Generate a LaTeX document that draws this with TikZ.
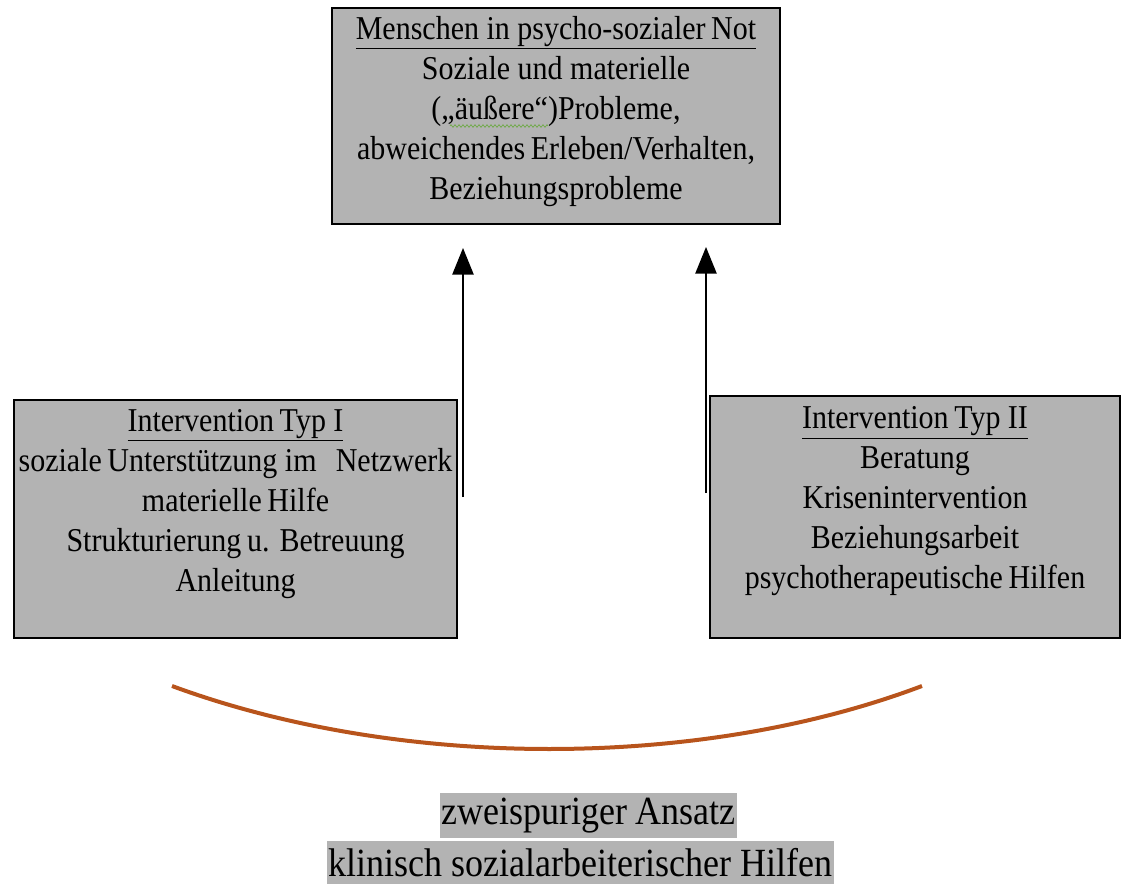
\documentclass[tikz,border=0pt]{standalone}
\usepackage{fontspec}
\setmainfont{Liberation Serif}[FakeStretch=0.9]
\usetikzlibrary{positioning,arrows.meta,decorations.pathmorphing}
\definecolor{boxgray}{RGB}{179,179,179}
\definecolor{arcbrown}{RGB}{184,84,28}
\definecolor{spellgreen}{RGB}{110,170,70}
\tikzset{box node/.style={rectangle,fill=boxgray,draw=black,line width=1.2pt,inner sep=0pt,font=\fontsize{25}{30}\selectfont},
         band node/.style={rectangle,fill=boxgray,inner xsep=1pt,inner ysep=0pt,font=\fontsize{30}{36}\selectfont},}

\begin{document}
\begin{tikzpicture}[x=0.75pt,y=-0.75pt]
      \useasboundingbox (0,0) rectangle (1122,884);

      \node[box node] (not) at (556,116) {\parbox[c][162pt][t]{336pt}{\centering\vspace{6pt}%
        \underline{Menschen in psycho-sozialer\,Not}\\
        Soziale und materielle\\
        („äußere“)Probleme,\\
        abweichendes\,Erleben/Verhalten,\\
        Beziehungsprobleme}};
      \node[box node] (typ1) at (235.5,519) {\parbox[c][178.5pt][t]{332pt}{\centering\vspace{7pt}%
        \underline{Intervention\,Typ I}\\
        \makebox[0pt]{soziale\,Unterstützung im\hspace{0.35em} Netzwerk}\\
        materielle\,Hilfe\\
        Strukturierung\,u. Betreuung\\
        Anleitung}};
      \node[box node] (typ2) at (915,517) {\parbox[c][181.5pt][t]{307.5pt}{\centering\vspace{8pt}%
        \underline{Intervention\,Typ II}\\
        Beratung\\
        Krisenintervention\\
        Beziehungsarbeit\\
        psychotherapeutische\,Hilfen}};

      % spell check mark under the quoted word
      \coordinate (w1) at (450,126);
      \coordinate (w2) at (548,126);
      \draw[spellgreen,line width=0.5pt,decorate,decoration={zigzag,amplitude=1pt,segment length=3pt}] (w1) -- (w2);

      %\draw (typ1) to (not)
      %\draw (typ2) to (not)
      \coordinate (a1) at (463,497);
      \coordinate (b1) at (463,248);
      \coordinate (a2) at (706,493);
      \coordinate (b2) at (706,247);

      \path[line width=1.1pt,-{Triangle[length=20pt,width=16pt]}]
        (a1) edge (b1)
        (a2) edge (b2);

      \coordinate (c1) at (172,686);
      \coordinate (c2) at (922,686);
      \draw[arcbrown,line width=3pt] (c1) .. controls (400,770) and (700,770) .. (c2);

      \node[band node,minimum height=33.75pt] (ansatz) at (588.5,815.5) {zweispuriger Ansatz\ };
      \node[band node,minimum height=32.25pt] (hilfen) at (580.5,862.5) {klinisch sozialarbeiterischer Hilfen};

    \end{tikzpicture}
\end{document}
